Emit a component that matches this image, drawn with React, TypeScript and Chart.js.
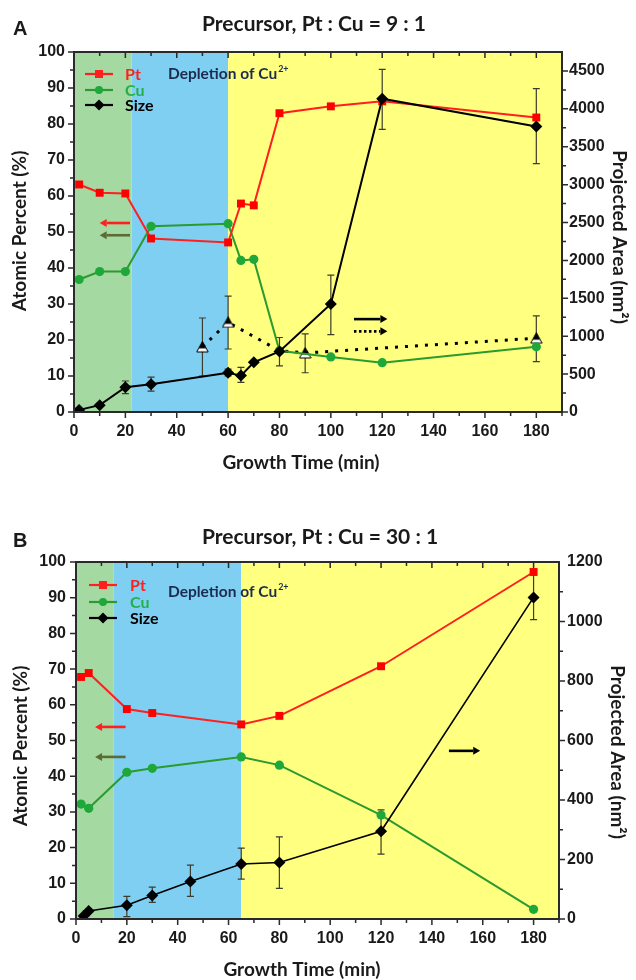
import React, { useEffect, useRef } from 'react';
import { Chart, registerables } from 'chart.js';
Chart.register(...registerables);

// ---------- colours ----------
const RED = '#ff1f1f';
const GREEN_LINE = '#2b9a2f';
const GREEN_PT = '#1ea83a';
const GREEN_TEXT = '#22b04a';
const OLIVE = '#5c6b34';
const BAND_COLORS = ['#a5d9a2', '#7fcff3', '#ffff80'];

// ---------- Panel A data (Pt : Cu = 9 : 1) ----------
const timeA = [2, 10, 20, 30, 60, 65, 70, 80, 100, 120, 180];
const ptA = [63.2, 60.9, 60.7, 48.2, 47.1, 57.9, 57.4, 83.0, 84.9, 86.3, 81.8];
const cuA = [36.8, 39.0, 39.0, 51.6, 52.3, 42.1, 42.4, 17.0, 15.3, 13.7, 18.1];
const sizeTimeA = [2, 10, 20, 30, 60, 65, 70, 80, 100, 120, 180];
const sizeA = [28, 90, 328, 366, 518, 480, 656, 798, 1425, 4133, 3767];
const sizeLoA = [null, null, 242, 275, 475, 390, null, 608, 1021, 3729, 3278];
const sizeHiA = [null, null, 409, 461, 565, 589, null, 983, 1805, 4522, 4266];
const altTimeA = [50, 60, 80, 90, 180];
const altA = [860, 1183, 808, 779, 974];
const altLoA = [475, 831, null, 518, 665];
const altHiA = [1240, 1530, null, 1031, 1268];
const altMarkA = [1, 1, 0, 1, 1];
const bandEdgesA = [0, 22.4, 60, 190];
const rightMaxA = 4750;

// ---------- Panel B data (Pt : Cu = 30 : 1) ----------
const timeB = [2, 5, 20, 30, 65, 80, 120, 180];
const ptB = [67.8, 68.9, 58.8, 57.7, 54.5, 56.9, 70.8, 97.2];
const cuB = [32.2, 31.0, 41.1, 42.2, 45.4, 43.1, 29.1, 2.7];
const sizeTimeB = [3, 5, 20, 30, 45, 65, 80, 120, 180];
const sizeB = [10, 27, 46, 79, 126, 185, 190, 295, 1081];
const sizeLoB = [null, null, 8, 56, 76, 134, 103, 218, 1006];
const sizeHiB = [null, null, 76, 107, 181, 238, 276, 367, 1160];
const bandEdgesB = [0, 14.7, 65, 190];
const rightMaxB = 1200;

// ---------- annotations ----------
const arrowsA = [
  { from: 21.8, to: 10, y: 52.5, color: RED, dotted: false },
  { from: 21.8, to: 10, y: 49.1, color: OLIVE, dotted: false },
  { from: 109, to: 122, y: 25.8, color: '#000', dotted: false },
  { from: 109, to: 122, y: 22.4, color: '#000', dotted: true },
];
const arrowsB = [
  { from: 19.5, to: 7.5, y: 53.8, color: RED, dotted: false },
  { from: 19.5, to: 7.5, y: 45.4, color: OLIVE, dotted: false },
  { from: 146.7, to: 159, y: 47.1, color: '#000', dotted: false },
];

const TICK_FONT = { family: "'Liberation Sans', Arial, sans-serif", size: 16, weight: 'bold' as const };
const TEXT_FAMILY = "Lato, 'Open Sans', sans-serif";

function makeHalfTriangle() {
  const c = document.createElement('canvas');
  c.width = 13; c.height = 12;
  const g = c.getContext('2d')!;
  const path = () => {
    g.beginPath();
    g.moveTo(6.5, 0.5);
    g.lineTo(12.2, 11);
    g.lineTo(0.8, 11);
    g.closePath();
  };
  g.save();
  path();
  g.clip();
  g.fillStyle = '#fff';
  g.fillRect(0, 0, 13, 12);
  g.fillStyle = '#000';
  g.fillRect(0, 0, 13, 7.5);
  g.restore();
  path();
  g.strokeStyle = '#000';
  g.lineWidth = 1;
  g.stroke();
  return c;
}

function zip(xs: number[], ys: number[]) {
  return xs.map((x, i) => ({ x, y: ys[i] }));
}

function drawMarker(ctx: CanvasRenderingContext2D, style: string, x: number, y: number, color: string) {
  ctx.fillStyle = color;
  ctx.beginPath();
  if (style === 'rect') ctx.rect(x - 4, y - 4, 8, 8);
  else if (style === 'circle') ctx.arc(x, y, 4, 0, Math.PI * 2);
  else {
    ctx.moveTo(x, y - 5.5); ctx.lineTo(x + 5.5, y); ctx.lineTo(x, y + 5.5); ctx.lineTo(x - 5.5, y); ctx.closePath();
  }
  ctx.fill();
}

function drawArrow(ctx: CanvasRenderingContext2D, x1: number, x2: number, y: number, color: string, dotted: boolean) {
  const dir = Math.sign(x2 - x1);
  const head = 7;
  ctx.save();
  ctx.strokeStyle = color;
  ctx.fillStyle = color;
  ctx.lineWidth = 2.6;
  if (dotted) ctx.setLineDash([2.5, 2.5]);
  ctx.beginPath();
  ctx.moveTo(x1, y);
  ctx.lineTo(x2 - dir * head, y);
  ctx.stroke();
  ctx.setLineDash([]);
  ctx.beginPath();
  ctx.moveTo(x2, y);
  ctx.lineTo(x2 - dir * head, y - 4);
  ctx.lineTo(x2 - dir * head, y + 4);
  ctx.closePath();
  ctx.fill();
  ctx.restore();
}

function makePanel(p: any) {
  const deco = {
    id: 'deco_' + p.letter,
    beforeDatasetsDraw(chart: any) {
      const { ctx, chartArea: a, scales } = chart;
      const x = scales.x;
      ctx.save();
      // background bands
      for (let i = 0; i < p.bands.length - 1; i++) {
        const x0 = x.getPixelForValue(p.bands[i]);
        const x1 = x.getPixelForValue(p.bands[i + 1]);
        ctx.fillStyle = BAND_COLORS[i];
        ctx.fillRect(x0, a.top, x1 - x0, a.bottom - a.top);
      }
      // error bars
      ctx.strokeStyle = '#3d3d2c';
      ctx.lineWidth = 1.2;
      p.errs.forEach((e: any) => {
        const yS = scales[e.axis];
        e.t.forEach((t: number, i: number) => {
          if (e.lo[i] == null) return;
          const px = x.getPixelForValue(t);
          const y0 = yS.getPixelForValue(e.lo[i]);
          const y1 = yS.getPixelForValue(e.hi[i]);
          ctx.beginPath();
          ctx.moveTo(px, y0); ctx.lineTo(px, y1);
          ctx.moveTo(px - 3.5, y0); ctx.lineTo(px + 3.5, y0);
          ctx.moveTo(px - 3.5, y1); ctx.lineTo(px + 3.5, y1);
          ctx.stroke();
        });
      });
      ctx.restore();
    },
    afterDraw(chart: any) {
      const { ctx, chartArea: a, scales } = chart;
      const x = scales.x, y = scales.y, y1 = scales.y1;
      ctx.save();
      // frame
      ctx.strokeStyle = '#2a2a2a';
      ctx.lineWidth = 2;
      ctx.strokeRect(a.left, a.top, a.right - a.left, a.bottom - a.top);
      // tick marks
      ctx.lineWidth = 1.5;
      ctx.beginPath();
      x.ticks.forEach((t: any) => {
        const px = x.getPixelForValue(t.value);
        const len = t.value % 20 === 0 ? 6 : 4;
        ctx.moveTo(px, a.bottom); ctx.lineTo(px, a.bottom + len);
        ctx.moveTo(px, a.top); ctx.lineTo(px, a.top + len);
      });
      y.ticks.forEach((t: any) => {
        const py = y.getPixelForValue(t.value);
        const len = t.value % 10 === 0 ? 6 : 4;
        ctx.moveTo(a.left - len, py); ctx.lineTo(a.left, py);
      });
      y1.ticks.forEach((t: any) => {
        if (t.value >= p.rightMax) return;
        const py = y1.getPixelForValue(t.value);
        const len = t.value % p.rightMajor === 0 ? 6 : 4;
        ctx.moveTo(a.right, py); ctx.lineTo(a.right + len, py);
      });
      ctx.stroke();

      // arrows
      p.arrows.forEach((ar: any) => {
        drawArrow(ctx, x.getPixelForValue(ar.from), x.getPixelForValue(ar.to), y.getPixelForValue(ar.y), ar.color, ar.dotted);
      });

      // legend
      const L = p.legend;
      const items = [
        { label: 'Pt', color: RED, text: RED, style: 'rect' },
        { label: 'Cu', color: GREEN_LINE, text: GREEN_TEXT, style: 'circle' },
        { label: 'Size', color: '#000', text: '#000', style: 'diamond' },
      ];
      items.forEach((it, i) => {
        const yy = L.rows[i];
        ctx.strokeStyle = it.color;
        ctx.lineWidth = 2.2;
        ctx.beginPath();
        ctx.moveTo(L.x0, yy); ctx.lineTo(L.x1, yy);
        ctx.stroke();
        drawMarker(ctx, it.style, (L.x0 + L.x1) / 2, yy, it.style === 'circle' ? GREEN_PT : it.color);
        ctx.fillStyle = it.text;
        ctx.font = `bold 16px ${TEXT_FAMILY}`;
        ctx.textAlign = 'left';
        ctx.textBaseline = 'middle';
        ctx.fillText(it.label, L.tx, yy + 1);
      });

      // depletion text
      ctx.fillStyle = '#1d2b4f';
      ctx.font = `bold 15.5px ${TEXT_FAMILY}`;
      ctx.textAlign = 'left';
      ctx.textBaseline = 'middle';
      const s = 'Depletion of Cu';
      ctx.fillText(s, p.dep.x, p.dep.y);
      const w = ctx.measureText(s).width;
      ctx.font = `bold 9px ${TEXT_FAMILY}`;
      ctx.fillText('2+', p.dep.x + w + 1, p.dep.y - 5);

      // titles
      ctx.fillStyle = '#1a1a1a';
      ctx.font = `bold 21px ${TEXT_FAMILY}`;
      ctx.textAlign = 'center';
      ctx.fillText(p.title, p.titlePos.x, p.titlePos.y);
      ctx.font = "bold 20px 'Liberation Sans', Arial, sans-serif";
      ctx.textAlign = 'left';
      ctx.fillText(p.letter, p.letterPos.x, p.letterPos.y);

      ctx.font = `bold 19px ${TEXT_FAMILY}`;
      ctx.textAlign = 'center';
      ctx.fillText('Growth Time (min)', p.xTitle.x, p.xTitle.y);

      ctx.save();
      ctx.translate(p.yTitle.x, p.yTitle.y);
      ctx.rotate(-Math.PI / 2);
      ctx.fillText('Atomic Percent (%)', 0, 0);
      ctx.restore();

      ctx.save();
      ctx.translate(p.y1Title.x, p.y1Title.y);
      ctx.rotate(Math.PI / 2);
      ctx.fillText('Projected Area (nm²)', 0, 0);
      ctx.restore();

      ctx.restore();
    },
  };

  const tri = makeHalfTriangle();
  const datasets: any[] = [
    {
      label: 'Size', yAxisID: 'y1', data: zip(p.sizeT, p.size),
      borderColor: '#000', backgroundColor: '#000', borderWidth: p.sizeLineWidth,
      pointStyle: 'rectRot', pointRadius: 6, pointBorderWidth: 0, tension: 0,
    },
    {
      label: 'Pt', yAxisID: 'y', data: zip(p.t, p.pt),
      borderColor: RED, backgroundColor: '#ff0000', borderWidth: 2,
      pointStyle: 'rect', pointRadius: 5.6, pointBorderWidth: 0, tension: 0,
    },
    {
      label: 'Cu', yAxisID: 'y', data: zip(p.t, p.cu),
      borderColor: GREEN_LINE, backgroundColor: GREEN_PT, borderWidth: 2,
      pointStyle: 'circle', pointRadius: 4.6, pointBorderWidth: 0, tension: 0,
    },
  ];
  if (p.altT) {
    datasets.push({
      label: 'Size (dotted)', yAxisID: 'y1', data: zip(p.altT, p.alt),
      borderColor: '#000', backgroundColor: '#000', borderWidth: 3, borderDash: [3, 7],
      pointStyle: tri, pointRadius: p.altMark.map((m: number) => (m ? 6 : 0)), tension: 0,
    });
  }

  const tickCommon = { font: TICK_FONT, color: '#1a1a1a', autoSkip: false, maxRotation: 0, includeBounds: false };

  return {
    type: 'line',
    data: { datasets },
    options: {
      responsive: false,
      animation: false,
      devicePixelRatio: 1,
      layout: { padding: { top: p.area.top, left: 0, right: 0, bottom: 0 } },
      plugins: { legend: { display: false }, tooltip: { enabled: false }, title: { display: false } },
      scales: {
        x: {
          type: 'linear', min: 0, max: 190,
          afterFit: (s: any) => { s.height = 490 - p.area.bottom; },
          grid: { display: false, drawTicks: false }, border: { display: false },
          ticks: { ...tickCommon, stepSize: 10, padding: p.pad.x, callback: (v: number) => (v % 20 === 0 ? String(v) : '') },
        },
        y: {
          type: 'linear', position: 'left', min: 0, max: 100,
          afterFit: (s: any) => { s.width = p.area.left; },
          grid: { display: false, drawTicks: false }, border: { display: false },
          ticks: { ...tickCommon, stepSize: 5, padding: p.pad.y, callback: (v: number) => (v % 10 === 0 ? String(v) : '') },
        },
        y1: {
          type: 'linear', position: 'right', min: 0, max: p.rightMax,
          afterFit: (s: any) => { s.width = 636 - p.area.right; },
          grid: { display: false, drawTicks: false }, border: { display: false },
          ticks: {
            ...tickCommon, stepSize: p.rightMinor, padding: p.pad.y1,
            callback: (v: number) => (Math.round(v) % p.rightMajor === 0 && v <= p.rightLabelMax ? String(Math.round(v)) : ''),
          },
        },
      },
    },
    plugins: [deco],
  };
}

const panelA = {
  letter: 'A', title: 'Precursor, Pt : Cu = 9 : 1',
  t: timeA, pt: ptA, cu: cuA, sizeT: sizeTimeA, size: sizeA, sizeLineWidth: 2,
  altT: altTimeA, alt: altA, altMark: altMarkA,
  errs: [
    { t: sizeTimeA, lo: sizeLoA, hi: sizeHiA, axis: 'y1' },
    { t: altTimeA, lo: altLoA, hi: altHiA, axis: 'y1' },
  ],
  bands: bandEdgesA, rightMax: rightMaxA, rightMajor: 500, rightMinor: 250, rightLabelMax: 4500,
  arrows: arrowsA,
  area: { left: 74, right: 562, top: 52, bottom: 412 },
  pad: { x: 10, y: 9, y1: 7 },
  legend: { x0: 85, x1: 113, tx: 125, rows: [74, 90, 105] },
  dep: { x: 168, y: 74 },
  titlePos: { x: 314, y: 24 }, letterPos: { x: 13, y: 29 },
  xTitle: { x: 301, y: 463 }, yTitle: { x: 20, y: 231 }, y1Title: { x: 619, y: 237 },
};

const panelB = {
  letter: 'B', title: 'Precursor, Pt : Cu = 30 : 1',
  t: timeB, pt: ptB, cu: cuB, sizeT: sizeTimeB, size: sizeB, sizeLineWidth: 1.6,
  altT: null, alt: null, altMark: null,
  errs: [{ t: sizeTimeB, lo: sizeLoB, hi: sizeHiB, axis: 'y1' }],
  bands: bandEdgesB, rightMax: rightMaxB, rightMajor: 200, rightMinor: 100, rightLabelMax: 1200,
  arrows: arrowsB,
  area: { left: 76, right: 559, top: 72, bottom: 429 },
  pad: { x: 10, y: 10, y1: 8 },
  legend: { x0: 89, x1: 117, tx: 130, rows: [95, 112, 128] },
  dep: { x: 168, y: 102 },
  titlePos: { x: 320, y: 47 }, letterPos: { x: 13, y: 51 },
  xTitle: { x: 302, y: 480 }, yTitle: { x: 21, y: 256 }, y1Title: { x: 617, y: 262 },
};

function Panel({ p, top }: { p: any; top: number }) {
  const ref = useRef<HTMLCanvasElement>(null);
  useEffect(() => {
    const chart = new Chart(ref.current as HTMLCanvasElement, makePanel(p) as any);
    return () => chart.destroy();
  }, [p]);
  return (
    <canvas
      ref={ref}
      width={636}
      height={490}
      style={{ position: 'absolute', left: 0, top, width: 636, height: 490 }}
    />
  );
}

export default function App() {
  return (
    <div style={{ position: 'absolute', left: 0, top: 0, width: 636, height: 980, background: '#fff' }}>
      <Panel p={panelA} top={0} />
      <Panel p={panelB} top={490} />
    </div>
  );
}
